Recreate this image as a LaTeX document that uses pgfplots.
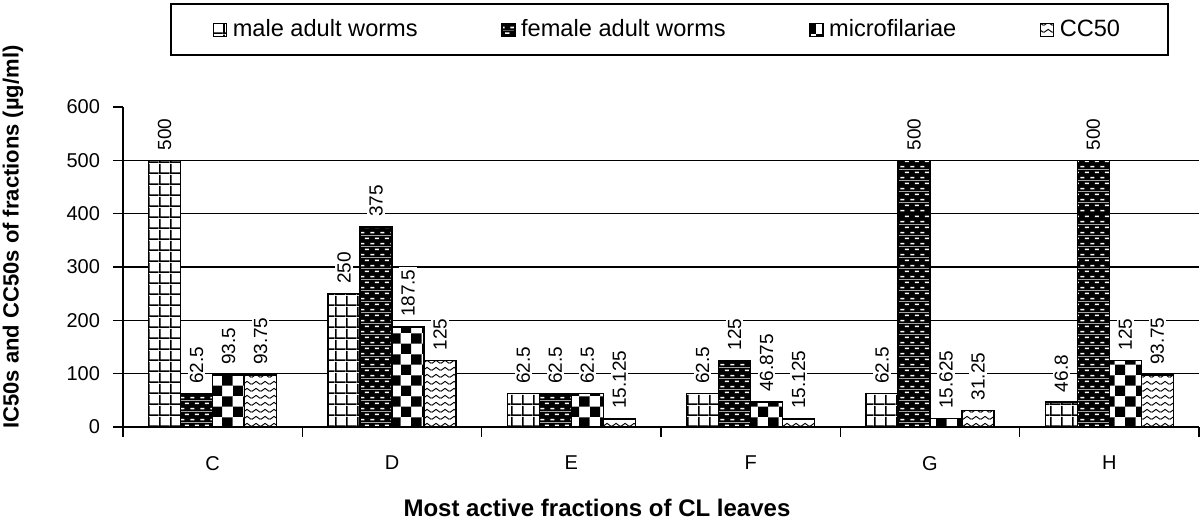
\documentclass[border=0pt]{standalone}
\usepackage{fontspec}
\setmainfont{Liberation Sans}
\usepackage{pgfplots}
\pgfplotsset{compat=1.18}
\usetikzlibrary{patterns.meta}

% bar fills
\tikzdeclarepattern{name=malegrid, type=colored,
  bounding box={(0pt,0pt) and (5.3pt,5.3pt)}, tile size={(5.3pt,5.3pt)},
  code={
    \fill[white] (0pt,0pt) rectangle (5.3pt,5.3pt);
    \fill[black] (0pt,0pt) rectangle (5.3pt,0.9pt);
    \fill[black] (0pt,0pt) rectangle (0.9pt,5.3pt);
  }}
\tikzdeclarepattern{name=femaledash, type=colored,
  bounding box={(0pt,0pt) and (5pt,5.6pt)}, tile size={(5pt,5.6pt)},
  code={
    \fill[black] (0pt,0pt) rectangle (5pt,5.6pt);
    \fill[white] (0.2pt,0.9pt) rectangle (2.4pt,1.7pt);
    \fill[white] (2.7pt,3.7pt) rectangle (4.9pt,4.5pt);
  }}
\tikzdeclarepattern{name=microcheck, type=colored,
  bounding box={(0pt,0pt) and (10.6pt,10.6pt)}, tile size={(10.6pt,10.6pt)},
  code={
    \fill[white] (0pt,0pt) rectangle (10.6pt,10.6pt);
    \fill[black] (0pt,0pt) rectangle (5.3pt,5.3pt);
    \fill[black] (5.3pt,5.3pt) rectangle (10.6pt,10.6pt);
  }}
\tikzdeclarepattern{name=ccwave, type=colored,
  bounding box={(0pt,0pt) and (4.5pt,3.65pt)}, tile size={(4.5pt,3.65pt)},
  code={
    \fill[white] (0pt,0pt) rectangle (4.5pt,3.65pt);
    \draw[black, line width=0.5pt] (0pt,0.9pt) -- (2.25pt,2.5pt) -- (4.5pt,0.9pt);
  }}

\begin{document}
\begin{tikzpicture}
\useasboundingbox (0pt,0pt) rectangle (600pt,261pt);
\begin{axis}[
  at={(61.5pt,47.5pt)}, anchor=south west,
  scale only axis, width=538pt, height=160pt,
  xmin=-0.5, xmax=5.5, ymin=0, ymax=600,
  enlargelimits=false, clip=false,
  axis x line*=bottom, axis y line*=left,
  axis line style={black, line width=0.9pt},
  tick align=outside, major tick length=5pt,
  tick style={black, line width=0.75pt},
  xtick={-0.5,0.5,1.5,2.5,3.5,4.5,5.5},
  xticklabels={,,,,,,},
  extra x ticks={0,1,2,3,4,5},
  extra x tick labels={C,D,E,F,G,H},
  extra x tick style={major tick length=0pt,
    xticklabel style={yshift=-11pt}},
  ytick={0,100,...,600},
  yticklabel style={xshift=-3pt},
  extra y ticks={100,200,300,400,500},
  extra y tick labels={},
  extra y tick style={grid=major, major tick length=0pt,
    major grid style={black, line width=0.75pt}},
  /pgf/number format/assume math mode=true,
  ticklabel style={font=\fontsize{10}{12}\selectfont},
  ybar=0pt, bar width=16pt,
  point meta=explicit symbolic,
  nodes near coords,
  nodes near coords style={rotate=90, anchor=west,
    font=\fontsize{9.5}{11}\selectfont, inner sep=1pt, outer sep=4pt,
    fill=white},
  xlabel={Most active fractions of CL leaves},
  xlabel style={at={(axis description cs:0.4405,-0.2531)}, anchor=center,
    font=\fontsize{12}{14}\bfseries},
  ylabel={IC50s and CC50s of fractions (µg/ml)},
  ylabel style={at={(axis description cs:-0.1022,0.5938)}, anchor=center,
    font=\fontsize{11}{13}\bfseries},
  legend columns=4,
  legend image code/.code={
    \draw[#1, line width=0.6pt] (0pt,-3.25pt) rectangle (6.5pt,3.25pt);},
  legend style={at={(axis description cs:0.0437,1.325)}, anchor=north west,
    draw=black, line width=1pt,
    font=\fontsize{11.8}{14}\selectfont,
    inner xsep=21pt, inner ysep=5pt,
    nodes={inner sep=2.8pt},
    /tikz/every even column/.append style={column sep=39pt}},
]
\addplot[draw=black, line width=0.75pt, pattern=malegrid] coordinates {
  (0,500) [500] (1,250) [250] (2,62.5) [62.5]
  (3,62.5) [62.5] (4,62.5) [62.5] (5,46.8) [46.8]
};
\addplot[draw=black, line width=0.75pt, pattern=femaledash] coordinates {
  (0,62.5) [62.5] (1,375) [375] (2,62.5) [62.5]
  (3,125) [125] (4,500) [500] (5,500) [500]
};
\addplot[draw=black, line width=0.75pt, pattern=microcheck] coordinates {
  (0,97.5) [93.5] (1,187.5) [187.5] (2,62.5) [62.5]
  (3,46.875) [46.875] (4,15.625) [15.625] (5,125) [125]
};
\addplot[draw=black, line width=0.75pt, pattern=ccwave] coordinates {
  (0,97.5) [93.75] (1,125) [125] (2,15.125) [15.125]
  (3,15.125) [15.125] (4,31.25) [31.25] (5,97.5) [93.75]
};
\legend{male adult worms, female adult worms, microfilariae, CC50}
\end{axis}
\end{tikzpicture}
\end{document}
